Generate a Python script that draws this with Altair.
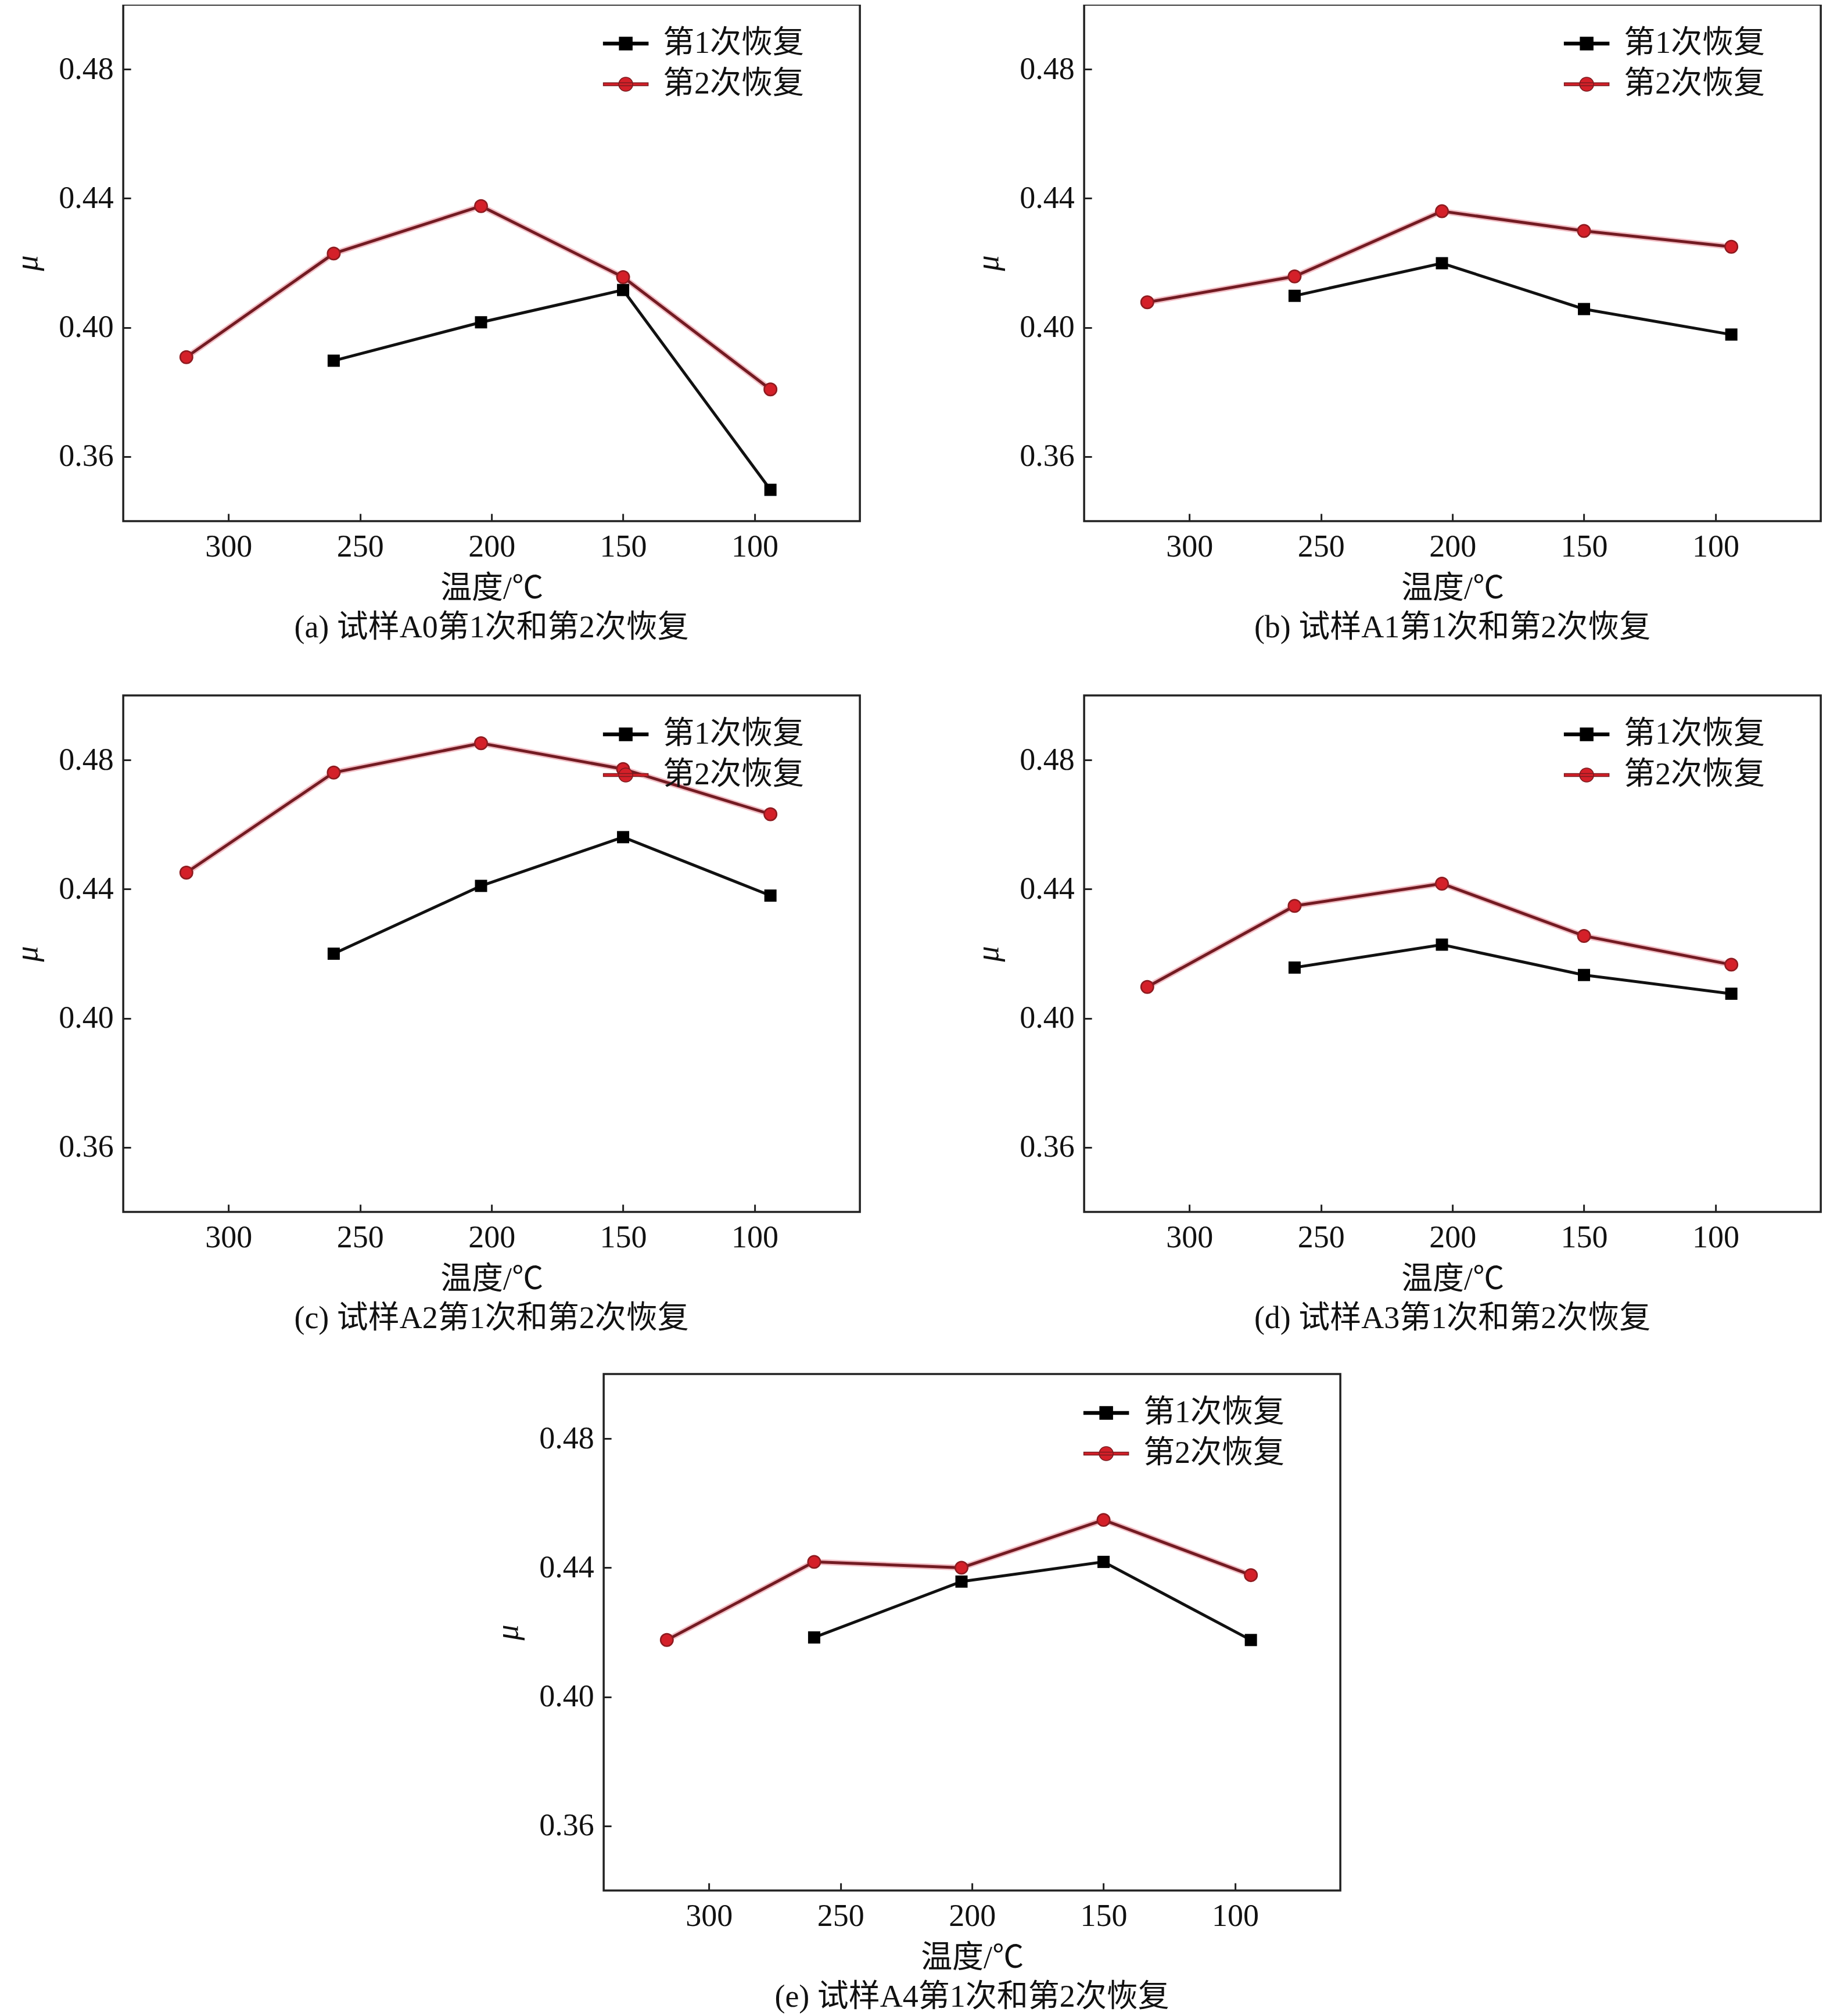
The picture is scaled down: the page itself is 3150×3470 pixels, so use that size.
import altair as alt
import pandas as pd

# ---------------- data ----------------
SERIES = ["第1次恢复", "第2次恢复"]
TEMP_1 = [260, 204, 150, 94]
TEMP_2 = [316, 260, 204, 150, 94]

A0_1 = [0.3897, 0.4016, 0.4116, 0.3497]
A0_2 = [0.3908, 0.4229, 0.4376, 0.4156, 0.3808]
A1_1 = [0.4098, 0.4199, 0.4057, 0.3978]
A1_2 = [0.4078, 0.4158, 0.4360, 0.4299, 0.4250]
A2_1 = [0.4200, 0.4410, 0.4561, 0.4380]
A2_2 = [0.4451, 0.4761, 0.4852, 0.4772, 0.4632]
A3_1 = [0.4157, 0.4228, 0.4134, 0.4076]
A3_2 = [0.4097, 0.4348, 0.4417, 0.4255, 0.4166]
A4_1 = [0.4184, 0.4357, 0.4418, 0.4176]
A4_2 = [0.4176, 0.4418, 0.4400, 0.4548, 0.4377]

CAPTIONS = [
    "(a) 试样A0第1次和第2次恢复",
    "(b) 试样A1第1次和第2次恢复",
    "(c) 试样A2第1次和第2次恢复",
    "(d) 试样A3第1次和第2次恢复",
    "(e) 试样A4第1次和第2次恢复",
]
X_TITLE = "温度/℃"
Y_TITLE = "μ"
X_TICKS = [300, 250, 200, 150, 100]
Y_TICKS = [0.36, 0.40, 0.44, 0.48]
X_DOMAIN = [340, 60]
Y_DOMAIN = [0.34, 0.50]

# ---------------- style ----------------
FONT = "Liberation Serif, Noto Sans CJK SC"
FS = 54
W, H = 1268, 889
LEG_SQ = "M-3.5,-0.22H3.5V0.22H-3.5Z M-1,-1H1V1H-1Z"
LEG_CI = "M-3.5,-0.22H3.5V0.22H-3.5Z M1.1,0A1.1,1.1,0,1,1,-1.1,0A1.1,1.1,0,1,1,1.1,0Z"


def make_panel(caption, v1, v2):
    df = pd.DataFrame({
        "temp": TEMP_1 + TEMP_2,
        "mu": v1 + v2,
        "series": [SERIES[0]] * len(TEMP_1) + [SERIES[1]] * len(TEMP_2),
    })
    x = alt.X("temp:Q",
              scale=alt.Scale(domain=X_DOMAIN, nice=False, zero=False),
              axis=alt.Axis(values=X_TICKS, format="d", title=X_TITLE))
    y = alt.Y("mu:Q",
              scale=alt.Scale(domain=Y_DOMAIN, nice=False, zero=False),
              axis=alt.Axis(values=Y_TICKS, format=".2f", title=Y_TITLE))
    base = alt.Chart(df).encode(x=x, y=y)
    s1 = base.transform_filter(alt.datum.series == SERIES[0])
    s2 = base.transform_filter(alt.datum.series == SERIES[1])

    halo = s2.mark_line(color="#eda3ad", strokeWidth=10, opacity=0.7)
    l1 = s1.mark_line(color="#111111", strokeWidth=5)
    l2 = s2.mark_line(color="#731b22", strokeWidth=5)
    p1 = s1.mark_point(shape="square", filled=True, size=441,
                       color="#000000", opacity=1)
    p2 = s2.mark_point(shape="circle", filled=True, size=460,
                       fill="#d42029", stroke="#8e1b20", strokeWidth=2.5,
                       opacity=1)

    leg = alt.Legend(title=None, orient="none", legendX=838, legendY=40,
                     labelFont=FONT, labelFontSize=FS, labelColor="#111111",
                     labelLimit=0,
                     symbolSize=484, labelOffset=37, rowPadding=16,
                     symbolStrokeWidth=1.5, symbolOpacity=1)
    legend_layer = base.transform_filter("false").mark_point(
        filled=True, opacity=1, strokeWidth=1.5
    ).encode(
        color=alt.Color("series:N",
                        scale=alt.Scale(domain=SERIES, range=["#000000", "#d42029"]),
                        legend=leg),
        shape=alt.Shape("series:N",
                        scale=alt.Scale(domain=SERIES, range=[LEG_SQ, LEG_CI]),
                        legend=leg),
        stroke=alt.Stroke("series:N",
                          scale=alt.Scale(domain=SERIES, range=["#000000", "#7a1a1f"]),
                          legend=leg),
    )
    return alt.layer(halo, l1, l2, p1, p2, legend_layer).properties(
        width=W, height=H,
        title=alt.TitleParams(caption, orient="bottom", anchor="middle",
                              offset=14),
    )


pa = make_panel(CAPTIONS[0], A0_1, A0_2)
pb = make_panel(CAPTIONS[1], A1_1, A1_2)
pc = make_panel(CAPTIONS[2], A2_1, A2_2)
pd_ = make_panel(CAPTIONS[3], A3_1, A3_2)
pe = make_panel(CAPTIONS[4], A4_1, A4_2)

RES = dict(color="independent", shape="independent", stroke="independent")
row1 = alt.hconcat(pa, pb, spacing=190).resolve_scale(**RES)
row2 = alt.hconcat(pc, pd_, spacing=190).resolve_scale(**RES)
top = alt.vconcat(row1, row2, spacing=85).resolve_scale(**RES)
chart = alt.vconcat(top, pe, spacing=64, center=True).resolve_scale(**RES)

chart = chart.properties(
    padding={"left": 10, "top": -2, "right": 5, "bottom": 5},
    background="white",
).configure_view(
    stroke="#222222", strokeWidth=3.5
).configure_axis(
    domain=False, grid=False,
    labelFont=FONT, labelFontSize=FS, labelColor="#111111",
    titleFont=FONT, titleFontSize=FS, titleFontWeight="normal",
    titleColor="#111111",
    tickColor="#222222", tickWidth=3,
    tickSize=alt.ExprRef("-13"),
).configure_axisX(
    labelPadding=30, titlePadding=18,
).configure_axisY(
    labelPadding=30, titlePadding=26, titleFontStyle="italic",
).configure_title(
    font=FONT, fontSize=FS, fontWeight="normal", color="#111111",
)

chart.save("out.html", embed_options={"renderer": "svg", "actions": False})
